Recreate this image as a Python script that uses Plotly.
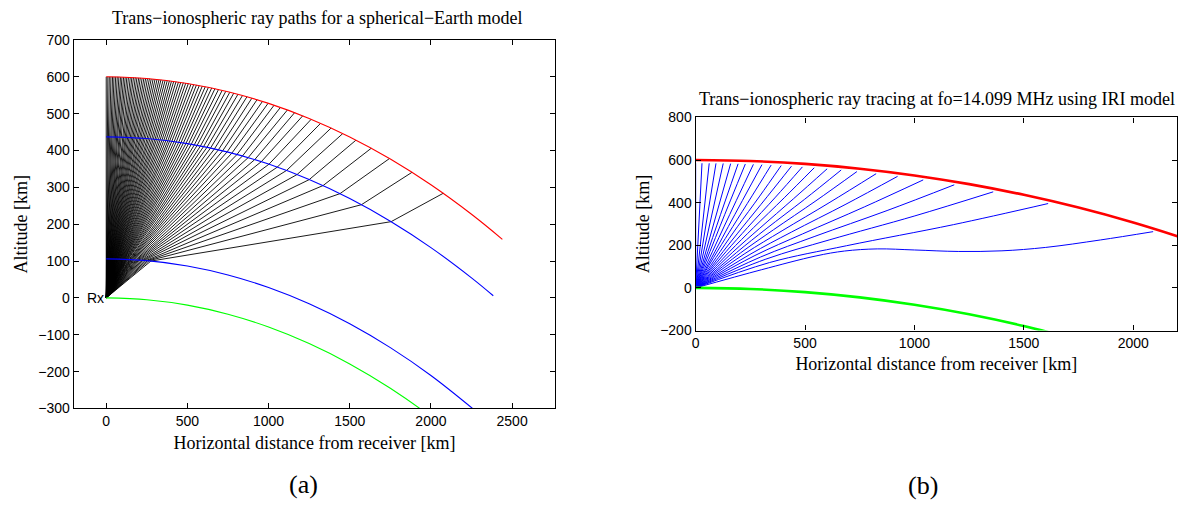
import plotly.graph_objects as go

# ---------------- Panel (a): spherical-Earth model ----------------
# ray crossings: lower ionosphere boundary (1), upper boundary (2), top (3)
ray_x1 = [275, 264, 253, 243, 234, 225, 216, 209, 201, 194, 187, 181, 175, 169, 164, 158, 153, 149, 144, 140,
          135, 131, 127, 123, 120, 116, 112, 109, 106, 103, 100, 97, 94, 91, 88, 85, 83, 80, 78, 75,
          73, 70, 68, 66, 64, 61, 59, 57, 55, 53, 51, 49, 47, 45, 43, 41, 39, 37, 36, 34,
          32, 30, 29, 27, 25, 23, 22, 20, 18, 17, 15, 13, 12, 10, 8, 7, 5, 3, 2, 0]
ray_y1 = [100, 101, 101, 101, 102, 102, 102, 103, 103, 103, 103, 103, 104, 104, 104, 104, 104, 104, 104, 104,
          105, 105, 105, 105, 105, 105, 105, 105, 105, 105, 105, 105, 105, 105, 105, 105, 105, 106, 106, 106,
          106, 106, 106, 106, 106, 106, 106, 106, 106, 106, 106, 106, 106, 106, 106, 106, 106, 106, 106, 106,
          106, 106, 106, 106, 106, 106, 106, 106, 106, 106, 106, 106, 106, 106, 106, 106, 106, 106, 106, 106]
ray_x2 = [1755, 1572, 1440, 1336, 1250, 1176, 1111, 1054, 1003, 956, 914, 875, 839, 805, 774, 744, 717, 691, 666, 643,
          621, 600, 580, 560, 542, 524, 507, 491, 475, 460, 446, 431, 418, 404, 391, 379, 367, 355, 343, 332,
          321, 310, 300, 290, 280, 270, 260, 251, 241, 232, 223, 214, 206, 197, 189, 180, 172, 164, 156, 148,
          140, 132, 124, 117, 109, 102, 94, 87, 79, 72, 65, 57, 50, 43, 36, 29, 21, 14, 7, 0]
ray_y2 = [207, 253, 283, 305, 321, 335, 346, 355, 363, 370, 375, 381, 385, 389, 393, 396, 399, 402, 404, 407,
          409, 411, 412, 414, 415, 417, 418, 419, 420, 421, 422, 423, 424, 425, 426, 426, 427, 428, 428, 429,
          429, 430, 430, 431, 431, 432, 432, 432, 433, 433, 433, 434, 434, 434, 434, 435, 435, 435, 435, 435,
          436, 436, 436, 436, 436, 436, 436, 436, 437, 437, 437, 437, 437, 437, 437, 437, 437, 437, 437, 437]
ray_x3 = [2076, 1884, 1744, 1632, 1538, 1457, 1385, 1321, 1263, 1210, 1161, 1116, 1073, 1034, 997, 962, 929, 897, 867, 839,
          812, 786, 761, 737, 714, 692, 670, 650, 630, 610, 592, 573, 556, 539, 522, 506, 490, 475, 459, 445,
          430, 416, 402, 389, 376, 363, 350, 337, 325, 313, 301, 289, 277, 266, 254, 243, 232, 221, 210, 200,
          189, 179, 168, 158, 148, 137, 127, 117, 107, 97, 88, 78, 68, 58, 48, 39, 29, 19, 10, 0]
ray_y3 = [284, 341, 378, 406, 428, 446, 461, 474, 485, 494, 503, 510, 517, 523, 528, 533, 538, 542, 546, 549,
          553, 556, 558, 561, 563, 566, 568, 570, 572, 573, 575, 576, 578, 579, 580, 582, 583, 584, 585, 586,
          587, 588, 588, 589, 590, 591, 591, 592, 592, 593, 594, 594, 594, 595, 595, 596, 596, 596, 597, 597,
          597, 598, 598, 598, 598, 599, 599, 599, 599, 599, 599, 600, 600, 600, 600, 600, 600, 600, 600, 600]

top_x = [0, 250, 500, 750, 1000, 1250, 1500, 1750, 2000, 2250, 2440]
top_y = [600, 595.5, 582.0, 559.5, 527.9, 487.0, 436.7, 376.8, 306.9, 226.9, 159.0]
upper_x = [0, 250, 500, 750, 1000, 1250, 1500, 1750, 2000, 2250, 2384]
upper_y = [437, 432.4, 418.6, 395.6, 363.2, 321.3, 269.7, 208.2, 136.6, 54.4, 5.9]
lower_x = [0, 250, 500, 750, 1000, 1250, 1500, 1750, 2000, 2268]
lower_y = [106, 101.2, 86.7, 62.4, 28.3, -15.8, -70.1, -134.9, -210.5, -304.1]
earth_x = [0, 250, 500, 750, 1000, 1250, 1500, 1750, 2000, 2231]
earth_y = [0, -4.9, -19.65, -44.3, -79.0, -123.8, -179.1, -245.1, -322.1, -403.4]

# ---------------- Panel (b): IRI model ray tracing ----------------
iri_top_x = [0, 250, 500, 750, 1000, 1250, 1500, 1750, 2000, 2250]
iri_top_y = [600, 595.5, 582.0, 559.5, 527.9, 487.0, 436.7, 376.8, 306.9, 226.9]
iri_earth_x = [0, 250, 500, 750, 1000, 1250, 1500, 1750]
iri_earth_y = [0, -4.9, -19.65, -44.3, -79.0, -123.8, -179.1, -245.1]

iri_rays = [
    ([0, 0], [0, 585]),
    ([0, 29], [0, 585]),
    ([0, 62], [0, 584.7]),
    ([0, 93], [0, 584.4]),
    ([0, 126], [0, 583.9]),
    ([0, 160], [0, 583.2]),
    ([0, 96, 194], [0, 291, 582.3]),
    ([0, 112, 227], [0, 291, 581.3]),
    ([0, 131, 264], [0, 290, 580.0]),
    ([0, 150, 303], [0, 289, 578.4]),
    ([0, 100, 170, 258, 345], [0, 173, 288, 432, 576.4]),
    ([0, 113, 191, 293, 391], [0, 172, 287, 431, 574.0]),
    ([0, 126, 215, 327, 438], [0, 171, 286, 428, 571.2]),
    ([0, 139, 238, 365, 488], [0, 170, 284, 426, 567.9]),
    ([0, 154, 264, 405, 542], [0, 169, 282, 423, 563.9]),
    ([0, 170, 293, 448, 601], [0, 168, 280, 419, 559.0]),
    ([0, 187, 322, 497, 665], [0, 166, 277, 415, 553.2]),
    ([0, 205, 356, 550, 737], [0, 164, 273, 409, 545.9]),
    ([0, 225, 395, 614, 825], [0, 161, 268, 402, 536.0]),
    ([0, 248, 438, 687, 923], [0, 157, 262, 393, 523.5]),
    ([0, 271, 488, 771, 1040], [0, 152, 253, 380, 506.8]),
    ([0, 297, 545, 875, 1182], [0, 145, 242, 363, 483.8]),
    ([0, 321, 610, 1002, 1360], [0, 135, 225, 338, 450.8]),
    ([0, 338, 690, 1179, 1611], [0, 119, 198, 297, 395.9]),
    ([0, 300, 550, 680, 830, 1000, 1200, 1400, 1600, 1850, 2091],
     [0, 85, 150, 173, 183, 178, 171, 174, 190, 225, 264]),
]

SERIF = "Liberation Serif"
SANS = "Liberation Sans"
TXT = 18

fig = go.Figure()

# panel (a)
rx, ry = [], []
for i in range(len(ray_x1)):
    rx += [0, ray_x1[i], ray_x2[i], ray_x3[i], None]
    ry += [0, ray_y1[i], ray_y2[i], ray_y3[i], None]
fig.add_trace(go.Scatter(x=rx, y=ry, mode="lines", line=dict(color="black", width=0.9),
                         xaxis="x", yaxis="y", hoverinfo="skip"))
fig.add_trace(go.Scatter(x=top_x, y=top_y, mode="lines", line=dict(color="#ff0000", width=1.1, shape="spline"),
                         xaxis="x", yaxis="y"))
fig.add_trace(go.Scatter(x=upper_x, y=upper_y, mode="lines", line=dict(color="#0000ff", width=1.1, shape="spline"),
                         xaxis="x", yaxis="y"))
fig.add_trace(go.Scatter(x=lower_x, y=lower_y, mode="lines", line=dict(color="#0000ff", width=1.1, shape="spline"),
                         xaxis="x", yaxis="y"))
fig.add_trace(go.Scatter(x=earth_x, y=earth_y, mode="lines", line=dict(color="#00ff00", width=1.1, shape="spline"),
                         xaxis="x", yaxis="y"))

# panel (b)
for xs, ys in iri_rays:
    fig.add_trace(go.Scatter(x=xs, y=ys, mode="lines", line=dict(color="#0000ff", width=1, shape="spline"),
                             xaxis="x2", yaxis="y2"))
fig.add_trace(go.Scatter(x=iri_top_x, y=iri_top_y, mode="lines", line=dict(color="#ff0000", width=2.6, shape="spline"),
                         xaxis="x2", yaxis="y2"))
fig.add_trace(go.Scatter(x=iri_earth_x, y=iri_earth_y, mode="lines", line=dict(color="#00ff00", width=2.6, shape="spline"),
                         xaxis="x2", yaxis="y2"))

axis_common = dict(showline=True, linecolor="black", linewidth=1.3, mirror="allticks", ticks="inside",
                   ticklen=5, tickwidth=1, tickcolor="black", showgrid=False, zeroline=False,
                   tickfont=dict(family=SANS, size=14, color="black"))

fig.update_layout(
    width=1178, height=508, margin=dict(l=0, r=0, t=0, b=0),
    paper_bgcolor="white", plot_bgcolor="white", showlegend=False,
    xaxis=dict(domain=[70 / 1178, 553 / 1178], range=[-200, 2765], tickvals=[0, 500, 1000, 1500, 2000, 2500],
               anchor="y", **axis_common,
               title=dict(text="Horizontal distance from receiver [km]", font=dict(family=SERIF, size=TXT, color="black"),
                          standoff=7)),
    yaxis=dict(domain=[1 - 413.5 / 508, 1 - 33 / 508], range=[-300, 700],
               tickvals=[-300, -200, -100, 0, 100, 200, 300, 400, 500, 600, 700],
               ticktext=["\u2212300", "\u2212200", "\u2212100", "0", "100", "200", "300", "400", "500", "600", "700"],
               anchor="x", **axis_common,
               title=dict(text="Altitude [km]", font=dict(family=SERIF, size=TXT, color="black"), standoff=5)),
    xaxis2=dict(domain=[694 / 1178, 1177 / 1178], range=[0, 2200], tickvals=[0, 500, 1000, 1500, 2000],
                anchor="y2", **axis_common,
                title=dict(text="Horizontal distance from receiver [km]", font=dict(family=SERIF, size=TXT, color="black"),
                           standoff=6)),
    yaxis2=dict(domain=[1 - 333 / 508, 1 - 113 / 508], range=[-200, 800],
                tickvals=[-200, 0, 200, 400, 600, 800],
                ticktext=["\u2212200", "0", "200", "400", "600", "800"],
                anchor="x2", **axis_common,
                title=dict(text="Altitude [km]", font=dict(family=SERIF, size=TXT, color="black"), standoff=5)),
)

fig.add_annotation(text="Trans\u2212ionospheric ray paths for a spherical\u2212Earth model", xref="paper", yref="paper",
                   x=315 / 1178, y=1 - 10 / 508, xanchor="center", yanchor="middle", showarrow=False,
                   font=dict(family=SERIF, size=TXT, color="black"))
fig.add_annotation(text="Trans\u2212ionospheric ray tracing at fo=14.099 MHz using IRI model", xref="paper", yref="paper",
                   x=936 / 1178, y=1 - 94 / 508, xanchor="center", yanchor="middle", showarrow=False,
                   font=dict(family=SERIF, size=TXT, color="black"))
fig.add_annotation(text="Rx", x=0, y=0, xref="x", yref="y", xanchor="right", yanchor="middle", showarrow=False,
                   font=dict(family=SANS, size=14, color="black"))
fig.add_annotation(text="(a)", xref="paper", yref="paper", x=301 / 1178, y=1 - 492 / 508, xanchor="center",
                   yanchor="middle", showarrow=False, font=dict(family=SERIF, size=26, color="black"))
fig.add_annotation(text="(b)", xref="paper", yref="paper", x=922 / 1178, y=1 - 493 / 508, xanchor="center",
                   yanchor="middle", showarrow=False, font=dict(family=SERIF, size=26, color="black"))

fig.write_html("out.html")
